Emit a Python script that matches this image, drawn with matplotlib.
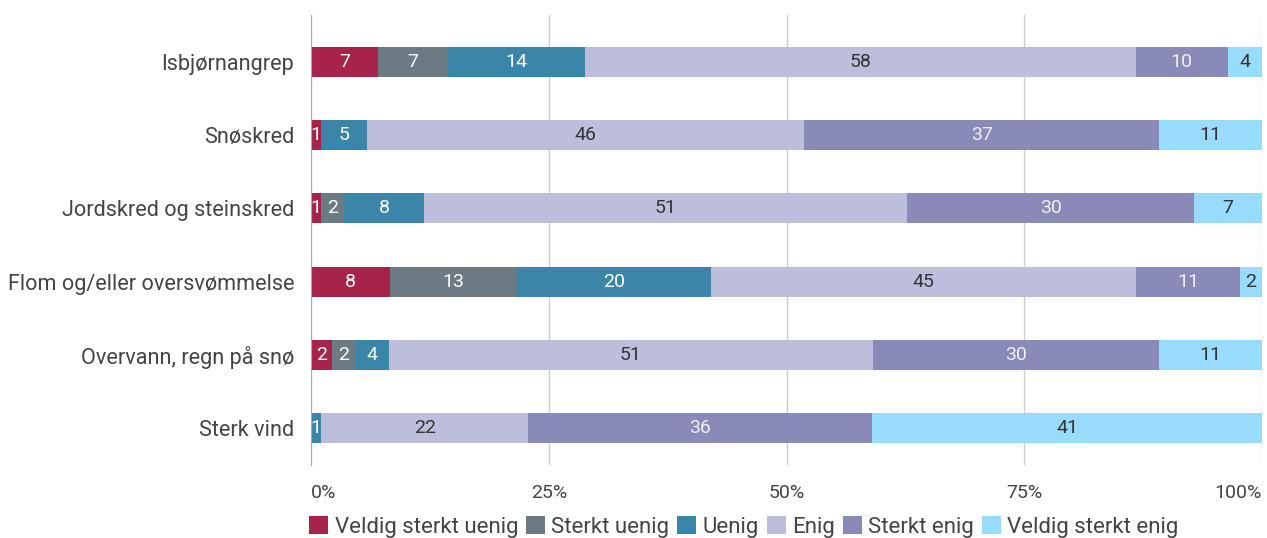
import numpy as np
import matplotlib.pyplot as plt
from matplotlib.patches import Patch

plt.rcParams['font.family'] = ['Roboto', 'DejaVu Sans']

categories = ['Isbjørnangrep', 'Snøskred', 'Jordskred og steinskred',
              'Flom og/eller oversvømmelse', 'Overvann, regn på snø', 'Sterk vind']
series = ['Veldig sterkt uenig', 'Sterkt uenig', 'Uenig', 'Enig', 'Sterkt enig', 'Veldig sterkt enig']
# percent per category (labels are rounded)
veldig_sterkt_uenig = [7.1, 1.1, 1.1, 8.3, 2.2, 0]
sterkt_uenig = [7.3, 0, 2.4, 13.3, 2.4, 0]
uenig = [14.4, 4.8, 8.4, 20.4, 3.6, 1.1]
enig = [58.0, 46.0, 50.8, 44.7, 50.8, 21.7]
sterkt_enig = [9.7, 37.4, 30.2, 10.9, 30.1, 36.2]
veldig_sterkt_enig = [3.6, 10.8, 7.1, 2.3, 10.8, 41.0]
ticks = [0, 25, 50, 75, 100]
tick_labels = ['0%', '25%', '50%', '75%', '100%']

colors = ['#A8234A', '#6B7A83', '#3A85A8', '#BDBEDC', '#8A8AB9', '#99DBFC']
text_colors = ['white', 'white', 'white', '#333333', '#f0f0f0', '#333333']

vals = np.array([veldig_sterkt_uenig, sterkt_uenig, uenig, enig, sterkt_enig, veldig_sterkt_enig])
pct = vals / vals.sum(axis=0) * 100

fig = plt.figure(figsize=(12.67, 5.38), dpi=100)
ax = fig.add_axes([311/1267, 1-465/538, 951/1267, 450/538])

y = np.arange(len(categories))
left = np.zeros(len(categories))
for k in range(len(series)):
    ax.barh(y, pct[k], left=left, height=0.41, color=colors[k], zorder=3)
    for i in range(len(categories)):
        if vals[k, i] > 0:
            ax.text(left[i] + pct[k, i]/2, y[i], '%.0f' % vals[k, i], ha='center', va='center',
                    color=text_colors[k], fontsize=14, zorder=4)
    left += pct[k]

ax.set_xlim(0, 100)
ax.set_ylim(5 + 37/73.2, -47/73.2)
ax.set_yticks(y)
ax.set_yticklabels(categories, fontsize=15.6, color='#444444')
ax.set_xticks(ticks)
ax.set_xticklabels([])
for t, lab in zip(ticks, tick_labels):
    ha = 'left' if t == 0 else ('right' if t == 100 else 'center')
    ax.text(t, -28/450, lab, transform=ax.get_xaxis_transform(), ha=ha, va='center',
            fontsize=14, color='#444444')
ax.tick_params(axis='both', length=0, pad=12)
ax.grid(axis='x', color='#cccccc', linewidth=1, zorder=0)
for s in ['top', 'right', 'bottom']:
    ax.spines[s].set_visible(False)
ax.spines['left'].set_color('#aaaaaa')
ax.spines['left'].set_zorder(5)

handles = [Patch(facecolor=c, label=s) for c, s in zip(colors, series)]
fig.legend(handles=handles, loc='center left', bbox_to_anchor=(309/1267, 1-527/538), ncol=6,
           frameon=False, fontsize=16, handlelength=0.85, handleheight=0.85, handletextpad=0.3,
           columnspacing=0.35, labelcolor='#444444', borderaxespad=0, borderpad=0)

fig.savefig('out.png', dpi=100)
